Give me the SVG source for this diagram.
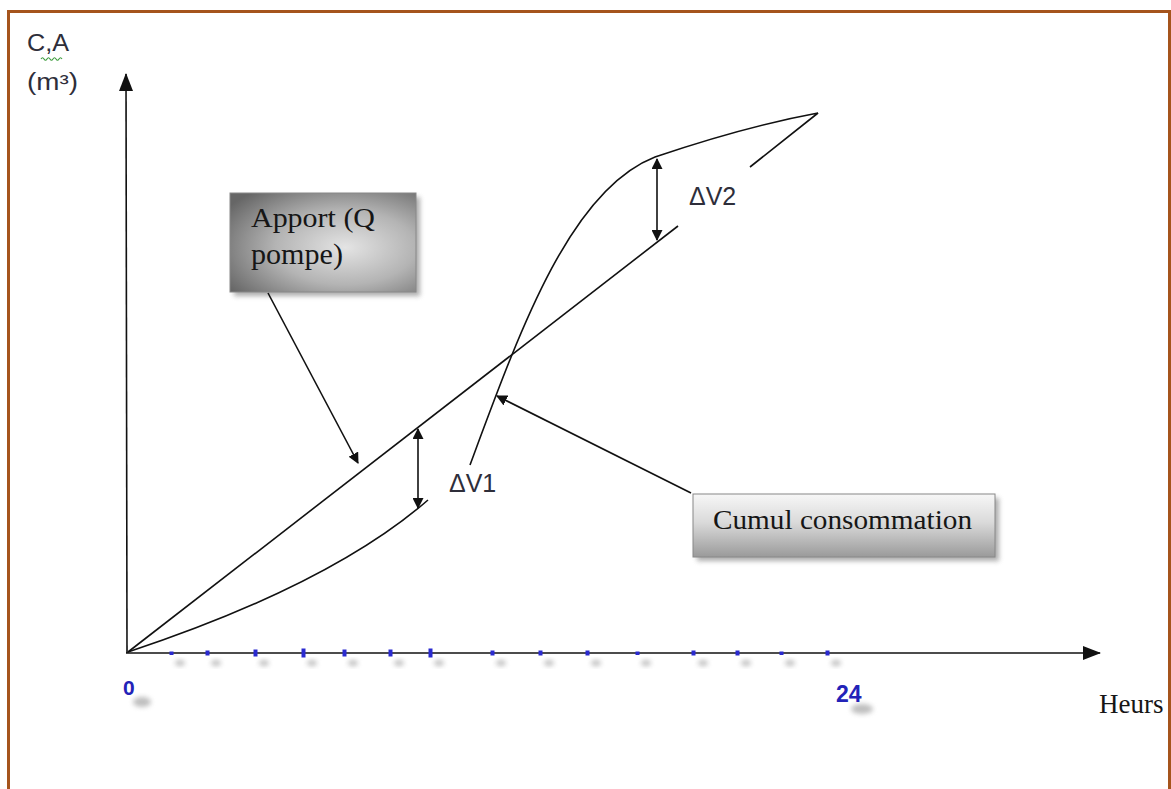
<svg xmlns="http://www.w3.org/2000/svg" width="1171" height="789" viewBox="0 0 1171 789">
<style>
.ln{fill:none;stroke:#111;stroke-width:1.6}
.ar{fill:none;stroke:#111;stroke-width:1.6;marker-end:url(#ah)}
.dv{fill:none;stroke:#111;stroke-width:1.6;marker-start:url(#ahs);marker-end:url(#ah)}
.lab{font-family:"Liberation Sans",Arial,sans-serif;fill:#2e2e3a}
.ser{font-family:"Liberation Serif","Times New Roman",serif;fill:#161616}
.num{font-family:"Liberation Sans",Arial,sans-serif;font-weight:bold;fill:#2323b8}
.tick{fill:#2a2ad0}
.tsh{fill:#888;opacity:.55;filter:url(#blur)}
</style>
<defs>
<marker id="ah" markerWidth="11" markerHeight="11" refX="10" refY="5.5" orient="auto" markerUnits="userSpaceOnUse" viewBox="0 0 11 11"><path d="M0,0 L11,5.5 L0,11 z" fill="#111"/></marker>
<marker id="ahs" markerWidth="11" markerHeight="11" refX="1" refY="5.5" orient="auto" markerUnits="userSpaceOnUse" viewBox="0 0 11 11"><path d="M11,0 L0,5.5 L11,11 z" fill="#111"/></marker>
<marker id="axh" markerWidth="18" markerHeight="14" refX="17" refY="7" orient="auto" markerUnits="userSpaceOnUse" viewBox="0 0 18 14"><path d="M0,0 L18,7 L0,14 z" fill="#111"/></marker>
<filter id="blur" x="-50%" y="-50%" width="200%" height="200%"><feGaussianBlur stdDeviation="2.5"/></filter>
<filter id="sh" x="-10%" y="-10%" width="130%" height="130%"><feGaussianBlur stdDeviation="2.5"/></filter>
<radialGradient id="g1" cx="0.62" cy="0.55" r="0.75"><stop offset="0" stop-color="#e4e4e4"/><stop offset="0.5" stop-color="#b4b4b4"/><stop offset="1" stop-color="#666"/></radialGradient>
<linearGradient id="g2" x1="0" y1="0" x2="0" y2="1"><stop offset="0" stop-color="#f7f7f7"/><stop offset="0.45" stop-color="#dadada"/><stop offset="1" stop-color="#9a9a9a"/></linearGradient>
</defs>
<rect x="0" y="0" width="1171" height="789" fill="#fff"/>
<rect x="8.5" y="11.5" width="1161" height="800" fill="none" stroke="#a5541c" stroke-width="3"/>

<g id="axes">
<line class="ln" x1="127" y1="653" x2="126" y2="74" marker-end="url(#axh)"/>
<line class="ln" x1="126" y1="653" x2="1100" y2="653" marker-end="url(#axh)"/>
</g>

<g id="ticks">
<ellipse class="tsh" cx="180" cy="663" rx="5" ry="3"/><ellipse class="tsh" cx="216" cy="663" rx="5" ry="3"/><ellipse class="tsh" cx="264" cy="663" rx="5" ry="3"/><ellipse class="tsh" cx="312" cy="663" rx="5" ry="3"/><ellipse class="tsh" cx="353" cy="663" rx="5" ry="3"/><ellipse class="tsh" cx="399" cy="663" rx="5" ry="3"/><ellipse class="tsh" cx="439" cy="663" rx="5" ry="3"/><ellipse class="tsh" cx="501" cy="663" rx="5" ry="3"/><ellipse class="tsh" cx="549" cy="663" rx="5" ry="3"/><ellipse class="tsh" cx="596" cy="663" rx="5" ry="3"/><ellipse class="tsh" cx="646" cy="663" rx="5" ry="3"/><ellipse class="tsh" cx="703" cy="663" rx="5" ry="3"/><ellipse class="tsh" cx="746" cy="663" rx="5" ry="3"/><ellipse class="tsh" cx="790" cy="663" rx="5" ry="3"/><ellipse class="tsh" cx="836" cy="663" rx="5" ry="3"/>
<rect class="tick" x="169.5" y="651.5" width="4" height="3.5"/><rect class="tick" x="205.5" y="650.5" width="4" height="5"/><rect class="tick" x="253.5" y="649.5" width="4" height="7"/><rect class="tick" x="301.5" y="648.5" width="4" height="9"/><rect class="tick" x="342.5" y="649.5" width="4" height="7"/><rect class="tick" x="388.5" y="649.5" width="4" height="7"/><rect class="tick" x="428.5" y="648.5" width="4" height="9"/><rect class="tick" x="490.5" y="650.5" width="4" height="5"/><rect class="tick" x="538.5" y="650.5" width="4" height="5"/><rect class="tick" x="585.5" y="650.5" width="4" height="5"/><rect class="tick" x="635.5" y="651.5" width="4" height="3.5"/><rect class="tick" x="691.5" y="650.5" width="4" height="5"/><rect class="tick" x="735.5" y="650.5" width="4" height="5"/><rect class="tick" x="779.5" y="651.5" width="4" height="3.5"/><rect class="tick" x="825.5" y="650.5" width="4" height="5"/>
</g>

<g id="axis-labels">
<ellipse class="tsh" cx="142" cy="702" rx="9" ry="5"/>
<ellipse class="tsh" cx="862" cy="709" rx="11" ry="5"/>
<text class="num" x="123" y="695" font-size="21">0</text>
<text class="num" x="836" y="702" font-size="23">24</text>
<text class="ser" x="1099" y="713" font-size="27">Heurs</text>
<text class="lab" x="27" y="51" font-size="23" fill="#444" textLength="42" lengthAdjust="spacingAndGlyphs">C,A</text>
<path d="M41,59 q1.5,-2.5 3,0 t3,0 t3,0 t3,0 t3,0 t3,0 t3,0" fill="none" stroke="#3a9a3a" stroke-width="1.1"/>
<text class="lab" x="27" y="90" font-size="23" fill="#444" textLength="51" lengthAdjust="spacingAndGlyphs">(m³)</text>
</g>

<g id="curves">
<path class="ln" d="M128,652 L678,226"/>
<path class="ln" d="M128,652 Q330,585 428,500"/>
<path class="ln" d="M470,465 C520,330 570,190 655,157 C720,135 780,120 818,113 L750,167"/>
</g>

<g id="dv1">
<line class="dv" x1="418" y1="429" x2="418" y2="508"/>
<text class="lab" x="449" y="492" font-size="25">ΔV1</text>
</g>
<g id="dv2">
<line class="dv" x1="657" y1="159" x2="657" y2="240"/>
<text class="lab" x="689" y="205" font-size="25">ΔV2</text>
</g>

<g id="apport">
<rect x="234" y="197" width="186" height="99" fill="#777" opacity=".6" filter="url(#sh)"/>
<rect x="230" y="193" width="186" height="99" fill="url(#g1)" stroke="#888" stroke-width="1"/>
<text class="ser" x="251" y="227" font-size="28" textLength="124" lengthAdjust="spacingAndGlyphs">Apport (Q</text>
<text class="ser" x="251" y="264" font-size="29" textLength="92" lengthAdjust="spacingAndGlyphs">pompe)</text>
</g>

<g id="cumul">
<rect x="697" y="498" width="302" height="63" fill="#777" opacity=".6" filter="url(#sh)"/>
<rect x="693" y="494" width="302" height="63" fill="url(#g2)" stroke="#888" stroke-width="1"/>
<text class="ser" x="713" y="529" font-size="27" textLength="259" lengthAdjust="spacingAndGlyphs">Cumul consommation</text>
</g>

<g id="connectors">
<line class="ar" x1="268" y1="293" x2="358" y2="463"/>
<line class="ar" x1="691" y1="493" x2="497" y2="396"/>
</g>
</svg>
